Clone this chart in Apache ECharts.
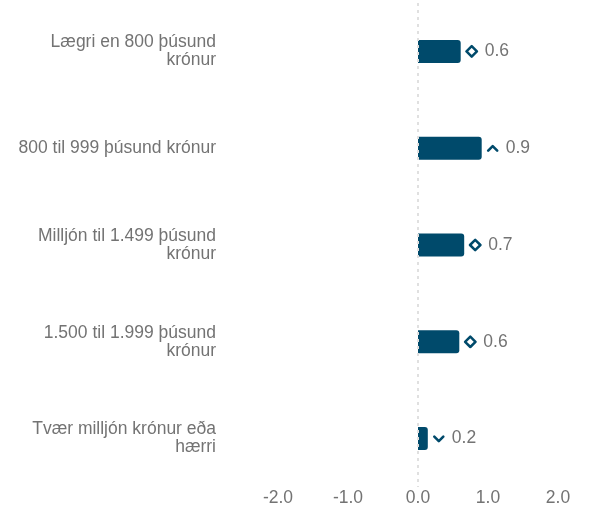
<!DOCTYPE html>
<html>
<head>
<meta charset="utf-8">
<script src="https://cdn.jsdelivr.net/npm/echarts@6/dist/echarts.min.js"></script>
<style>html,body{margin:0;padding:0;background:#fff}#c{width:613px;height:515px}</style>
</head>
<body>
<div id="c"></div>
<script>
const categories = [
  'Lægri en 800 þúsund\nkrónur',
  '800 til 999 þúsund krónur',
  'Milljón til 1.499 þúsund\nkrónur',
  '1.500 til 1.999 þúsund\nkrónur',
  'Tvær milljón krónur eða\nhærri'
];
const values = [0.61, 0.91, 0.66, 0.59, 0.14];
const valueLabels = ['0.6', '0.9', '0.7', '0.6', '0.2'];
const trends = ['same', 'up', 'same', 'same', 'down'];
const xTicks = [-2, -1, 0, 1, 2];

const BLUE = '#004a6b';
const FONT = 'Liberation Sans, Arial, sans-serif';
const FS = 17.5;
function svgUrl(s) { return 'data:image/svg+xml;charset=utf-8,' + encodeURIComponent(s); }
const icons = {
  same: svgUrl('<svg xmlns="http://www.w3.org/2000/svg" width="14" height="14" viewBox="0 0 14 14"><path d="M7 1.8 L12.2 7 L7 12.2 L1.8 7 Z" fill="none" stroke="' + BLUE + '" stroke-width="2.5" stroke-linejoin="round"/></svg>'),
  up: svgUrl('<svg xmlns="http://www.w3.org/2000/svg" width="14" height="14" viewBox="0 0 14 14"><path d="M2.5 9.5 L7 5 L11.5 9.5" fill="none" stroke="' + BLUE + '" stroke-width="2.6" stroke-linecap="round" stroke-linejoin="round"/></svg>'),
  down: svgUrl('<svg xmlns="http://www.w3.org/2000/svg" width="14" height="14" viewBox="0 0 14 14"><path d="M2.5 5 L7 9.5 L11.5 5" fill="none" stroke="' + BLUE + '" stroke-width="2.6" stroke-linecap="round" stroke-linejoin="round"/></svg>')
};

const chart = echarts.init(document.getElementById('c'), null, {renderer: 'canvas'});
chart.setOption({
  animation: false,
  grid: {left: 278, right: 55, top: 3, bottom: 28, containLabel: false},
  xAxis: {
    type: 'value', min: xTicks[0], max: xTicks[xTicks.length - 1], interval: 1,
    axisLine: {show: false}, axisTick: {show: false}, splitLine: {show: false},
    axisLabel: {
      color: '#737373', fontSize: FS, fontFamily: FONT, margin: 2,
      formatter: v => v.toFixed(1)
    }
  },
  yAxis: {
    type: 'category', data: categories, inverse: true,
    axisLine: {show: false}, axisTick: {show: false}, splitLine: {show: false},
    axisLabel: {
      color: '#737373', fontSize: FS, lineHeight: 18, align: 'right',
      fontFamily: FONT, margin: 62
    }
  },
  series: [{
    type: 'bar',
    data: values,
    barWidth: 23,
    itemStyle: {color: BLUE, borderRadius: [0, 3, 3, 0]},
    label: {
      show: true, position: 'right', distance: 4,
      formatter: p => '{' + trends[p.dataIndex] + '|}{v|' + valueLabels[p.dataIndex] + '}',
      rich: {
        same: {width: 14, height: 14, backgroundColor: {image: icons.same}},
        up: {width: 14, height: 14, backgroundColor: {image: icons.up}},
        down: {width: 14, height: 14, backgroundColor: {image: icons.down}},
        v: {color: '#737373', fontSize: FS, fontFamily: FONT, padding: [0, 0, 0, 6]}
      }
    },
    markLine: {
      silent: true, symbol: 'none', label: {show: false},
      lineStyle: {color: '#e0e0e0', type: [3, 4], width: 2},
      data: [{xAxis: 0}]
    }
  }]
});
</script>
</body>
</html>
